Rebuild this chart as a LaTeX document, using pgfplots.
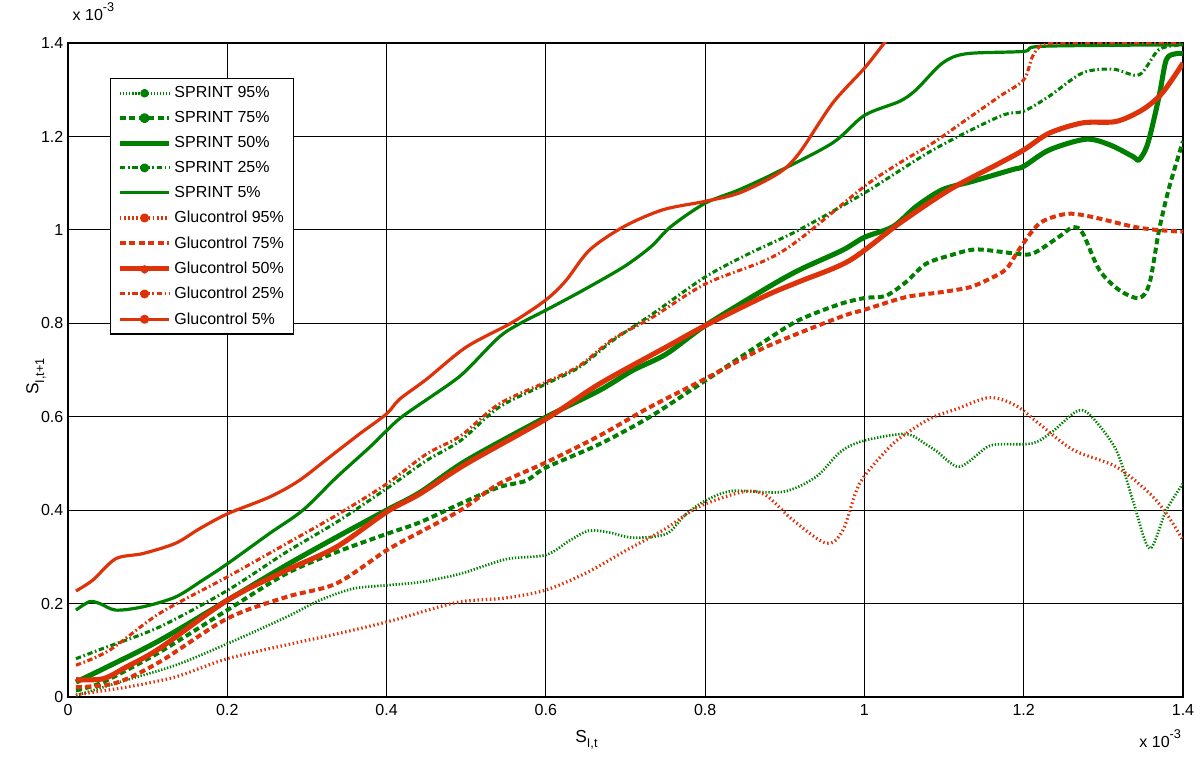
\documentclass[border=0pt]{standalone}
\usepackage{fontspec}
\setmainfont{Liberation Sans}
\usepackage{pgfplots}
\pgfplotsset{compat=1.18}

\definecolor{sgreen}{RGB}{0,128,0}
\definecolor{gred}{RGB}{222,50,10}

% line styles per percentile
\tikzset{
  p95g/.style={sgreen, line width=2pt, dash pattern=on 1.0pt off 1.3pt},
  p95r/.style={gred, line width=2.4pt, dash pattern=on 1.1pt off 2.0pt},
  p75/.style={line width=3pt, dash pattern=on 4.5pt off 2.6pt},
  p50/.style={line width=3.8pt},
  p25/.style={line width=2.3pt, dash pattern=on 4pt off 2pt on 1.2pt off 2pt},
  p5/.style={line width=2.4pt},
}
\pgfplotsset{
  dot legend/.style={legend image code/.code={
        \draw[##1, line cap=butt] (0pt,0pt) -- (37pt,0pt);
        \fill[##1, solid] (18.5pt,0pt) circle (2.2pt);}},
  small dot legend/.style={legend image code/.code={
        \draw[##1, line cap=butt] (0pt,0pt) -- (37pt,0pt);
        \fill[##1, solid] (18.5pt,-0.6pt) circle (1.3pt);}},
  plain legend/.style={legend image code/.code={
        \draw[##1, line cap=butt] (0pt,0pt) -- (37pt,0pt);}},
}

\newcommand{\subs}[1]{\raisebox{-0.32em}{\fontsize{9.5}{9}\selectfont #1}}
\newcommand{\expo}{x 10\raisebox{0.55em}{\fontsize{9.5}{9}\selectfont -3}}

\begin{document}
\begin{tikzpicture}
\useasboundingbox (0,0) rectangle (900pt,571.5pt);
\begin{axis}[
    at={(51pt,48.75pt)}, anchor=south west,
    width=836.25pt, height=490.5pt, scale only axis,
    clip mode=individual,
    xmin=0, xmax=1.4, ymin=0, ymax=1.4,
    xtick={0,0.2,0.4,0.6,0.8,1,1.2,1.4},
    ytick={0,0.2,0.4,0.6,0.8,1,1.2,1.4},
    grid=major,
    major grid style={black, line width=0.6pt},
    axis line style={black, line width=1pt},
    tick align=inside, major tick length=4pt,
    tick style={black, line width=0.6pt},
    tick label style={font=\fontsize{12}{14}\selectfont},
    /pgf/number format/assume math mode=true,
    xticklabel style={yshift=-2pt},
    legend cell align=left,
    legend style={at={(0.0377,0.9465)}, anchor=north west,
        draw=black, line width=1pt, fill=white,
        font=\fontsize{12}{14}\selectfont,
        inner xsep=5pt, inner ysep=4pt, row sep=4.8pt,
        nodes={inner sep=2pt}},
    dot legend,
    every axis plot/.append style={smooth, tension=0.5, line join=round},
]

% SPRINT 95%
\addplot[p95g] coordinates {
(0.01,0.003) (0.073,0.036) (0.135,0.068) (0.2,0.114) (0.274,0.171) (0.316,0.207)
(0.358,0.232) (0.4,0.239) (0.442,0.246) (0.493,0.264) (0.55,0.295) (0.6,0.304)
(0.63,0.335) (0.654,0.356) (0.68,0.352) (0.709,0.341) (0.751,0.349) (0.775,0.39)
(0.8,0.42) (0.834,0.441) (0.897,0.439) (0.939,0.471) (0.97,0.525) (1.0,0.549)
(1.052,0.563) (1.077,0.541) (1.09,0.527) (1.119,0.493) (1.153,0.534) (1.17,0.541)
(1.211,0.543) (1.236,0.568) (1.266,0.611) (1.283,0.604) (1.316,0.529) (1.337,0.421)
(1.358,0.318) (1.379,0.4) (1.4,0.457)};
\addlegendentry{SPRINT 95\%}

% SPRINT 75%
\addplot[sgreen, p75] coordinates {
(0.01,0.014) (0.044,0.032) (0.115,0.096) (0.2,0.186) (0.274,0.264) (0.337,0.31)
(0.4,0.349) (0.442,0.374) (0.493,0.414) (0.541,0.449) (0.575,0.463) (0.6,0.491)
(0.667,0.541) (0.73,0.599) (0.8,0.677) (0.876,0.763) (0.918,0.807) (0.969,0.841)
(1.0,0.854) (1.027,0.859) (1.052,0.888) (1.077,0.927) (1.107,0.945) (1.14,0.958)
(1.186,0.95) (1.211,0.949) (1.245,0.986) (1.262,1.006) (1.274,0.993) (1.295,0.914)
(1.32,0.871) (1.345,0.854) (1.358,0.886) (1.37,1.0) (1.383,1.093) (1.4,1.19)};
\addlegendentry{SPRINT 75\%}

% SPRINT 50%
\addplot[sgreen, p50, plain legend] coordinates {
(0.01,0.032) (0.044,0.06) (0.115,0.121) (0.2,0.207) (0.274,0.282) (0.337,0.342)
(0.4,0.4) (0.442,0.438) (0.5,0.506) (0.6,0.599) (0.667,0.656) (0.709,0.699)
(0.751,0.734) (0.8,0.795) (0.876,0.874) (0.918,0.914) (0.972,0.956) (1.0,0.984)
(1.036,1.007) (1.065,1.05) (1.098,1.086) (1.136,1.104) (1.186,1.129) (1.2,1.136)
(1.232,1.171) (1.278,1.194) (1.308,1.182) (1.337,1.157) (1.345,1.15) (1.356,1.186)
(1.37,1.286) (1.379,1.364) (1.391,1.377) (1.4,1.377)};
\addlegendentry{SPRINT 50\%}

% SPRINT 25%
\addplot[sgreen, p25] coordinates {
(0.01,0.082) (0.044,0.104) (0.115,0.15) (0.2,0.228) (0.274,0.31) (0.337,0.374)
(0.4,0.446) (0.45,0.506) (0.493,0.549) (0.541,0.62) (0.6,0.67) (0.642,0.706)
(0.684,0.763) (0.734,0.82) (0.8,0.899) (0.855,0.949) (0.918,1.0) (1.0,1.079)
(1.086,1.171) (1.17,1.243) (1.2,1.254) (1.232,1.286) (1.274,1.336) (1.312,1.344)
(1.345,1.332) (1.37,1.386) (1.4,1.396)};
\addlegendentry{SPRINT 25\%}

% SPRINT 5%
\addplot[sgreen, p5, plain legend] coordinates {
(0.01,0.186) (0.027,0.204) (0.04,0.2) (0.06,0.186) (0.094,0.193) (0.135,0.214)
(0.169,0.25) (0.2,0.285) (0.253,0.35) (0.295,0.4) (0.337,0.47) (0.379,0.535)
(0.4,0.57) (0.421,0.602) (0.479,0.67) (0.5,0.699) (0.541,0.77) (0.567,0.799)
(0.6,0.828) (0.646,0.87) (0.698,0.921) (0.732,0.964) (0.757,1.007) (0.8,1.057)
(0.843,1.086) (0.892,1.125) (0.96,1.186) (1.0,1.245) (1.044,1.275) (1.065,1.3)
(1.098,1.357) (1.128,1.377) (1.2,1.382) (1.224,1.393) (1.4,1.396)};
\addlegendentry{SPRINT 5\%}

% Glucontrol 95%
\addplot[p95r] coordinates {
(0.01,0.005) (0.073,0.021) (0.135,0.043) (0.2,0.082) (0.281,0.114) (0.35,0.14)
(0.408,0.164) (0.45,0.185) (0.493,0.204) (0.55,0.212) (0.6,0.229) (0.65,0.265)
(0.7,0.313) (0.75,0.36) (0.792,0.407) (0.847,0.439) (0.876,0.432) (0.91,0.379)
(0.952,0.329) (0.973,0.357) (0.994,0.457) (1.031,0.534) (1.056,0.568) (1.086,0.599)
(1.115,0.616) (1.157,0.641) (1.19,0.624) (1.22,0.584) (1.262,0.529) (1.316,0.493)
(1.358,0.436) (1.379,0.393) (1.4,0.336)};
\addlegendentry{Glucontrol 95\%}

% Glucontrol 75%
\addplot[gred, p75, plain legend] coordinates {
(0.01,0.021) (0.06,0.03) (0.115,0.075) (0.2,0.168) (0.274,0.214) (0.337,0.243)
(0.4,0.314) (0.442,0.353) (0.493,0.4) (0.541,0.456) (0.6,0.502) (0.667,0.559)
(0.73,0.62) (0.8,0.681) (0.876,0.749) (0.969,0.813) (1.0,0.829) (1.052,0.856)
(1.094,0.866) (1.132,0.877) (1.157,0.895) (1.178,0.916) (1.195,0.96) (1.22,1.014)
(1.253,1.034) (1.282,1.029) (1.337,1.007) (1.366,1.0) (1.4,0.996)};
\addlegendentry{Glucontrol 75\%}

% Glucontrol 50%
\addplot[gred, p50, small dot legend] coordinates {
(0.01,0.037) (0.044,0.039) (0.073,0.064) (0.115,0.104) (0.2,0.207) (0.274,0.271)
(0.337,0.321) (0.4,0.396) (0.442,0.435) (0.5,0.499) (0.6,0.595) (0.667,0.67)
(0.751,0.749) (0.8,0.795) (0.876,0.859) (0.918,0.889) (0.981,0.934) (1.044,1.014)
(1.107,1.086) (1.17,1.143) (1.2,1.171) (1.232,1.207) (1.274,1.229) (1.316,1.232)
(1.349,1.257) (1.374,1.293) (1.4,1.357)};
\addlegendentry{Glucontrol 50\%}

% Glucontrol 25%
\addplot[gred, p25] coordinates {
(0.01,0.068) (0.052,0.1) (0.115,0.179) (0.2,0.257) (0.274,0.328) (0.337,0.389)
(0.4,0.456) (0.45,0.52) (0.493,0.559) (0.541,0.627) (0.6,0.674) (0.642,0.709)
(0.684,0.766) (0.734,0.813) (0.8,0.884) (0.876,0.935) (0.918,0.979) (1.0,1.093)
(1.044,1.143) (1.086,1.186) (1.128,1.236) (1.17,1.286) (1.2,1.321) (1.211,1.371)
(1.224,1.396) (1.26,1.4) (1.4,1.4)};
\addlegendentry{Glucontrol 25\%}

% Glucontrol 5%
\addplot[gred, p5] coordinates {
(0.01,0.227) (0.031,0.25) (0.06,0.296) (0.094,0.307) (0.135,0.329) (0.165,0.36)
(0.2,0.392) (0.253,0.428) (0.29,0.463) (0.328,0.513) (0.366,0.563) (0.4,0.606)
(0.416,0.637) (0.45,0.68) (0.5,0.749) (0.558,0.802) (0.6,0.85) (0.625,0.891)
(0.655,0.957) (0.698,1.007) (0.747,1.043) (0.8,1.061) (0.843,1.079) (0.892,1.121)
(0.918,1.164) (0.96,1.271) (1.0,1.346) (1.025,1.4) (1.04,1.43)};
\addlegendentry{Glucontrol 5\%}

\node[anchor=base west, font=\fontsize{12}{14}\selectfont] at (rel axis cs:0,1) [yshift=17pt] {\expo};
\node[anchor=base east, font=\fontsize{12}{14}\selectfont] at (rel axis cs:1,0) [xshift=2pt, yshift=-38pt] {\expo};
\node[anchor=center, font=\fontsize{13}{15}\selectfont] at (rel axis cs:0.465,0) [yshift=-32pt] {S\subs{I,t}};
\node[xshift=-24pt, rotate=90, anchor=center, font=\fontsize{13}{15}\selectfont] at (rel axis cs:0,0.49) {S\subs{I,t+1}};
\end{axis}
\end{tikzpicture}
\end{document}
